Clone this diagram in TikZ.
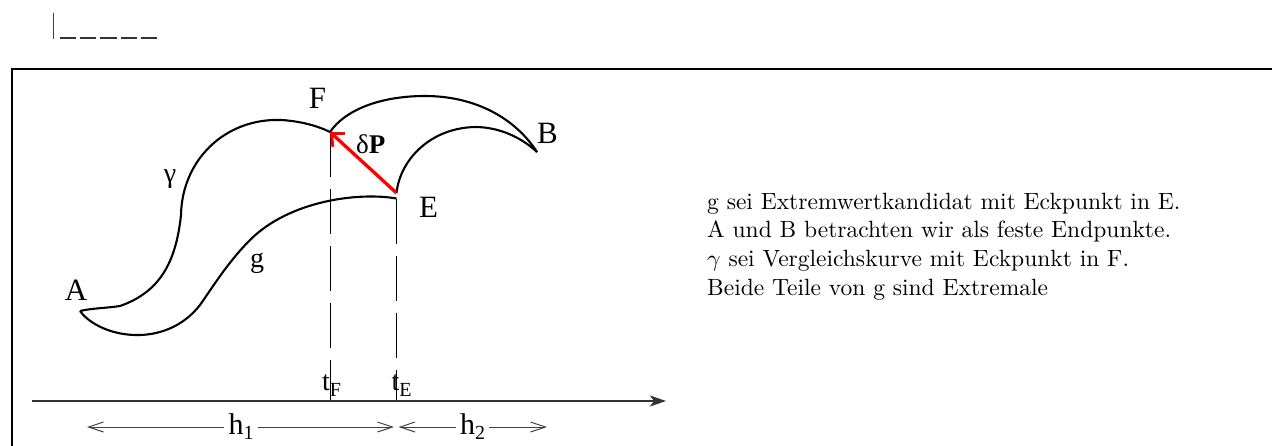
\documentclass[tikz,border=0pt]{standalone}
\usepackage{fontspec}
\newfontfamily\tms{Liberation Serif}
\usetikzlibrary{arrows.meta}
\begin{document}
\begin{tikzpicture}[x=1pt,y=-1pt,
  curve/.style={line width=2.1pt, line join=round},
  guide/.style={line width=0.9pt, dash pattern=on 45pt off 12pt},
  harrow/.style={line width=1pt, black!75, -{Straight Barb[length=15pt,width=10pt,line width=1pt]}},
  lbl/.style={inner sep=0pt, font=\tms\fontsize{31}{31}\selectfont},
  slbl/.style={inner sep=0pt, font=\tms\fontsize{28}{28}\selectfont},
  hlbl/.style={inner xsep=4pt, inner ysep=0pt, font=\tms\fontsize{30}{30}\selectfont},
  txt/.style={anchor=base west, inner sep=0pt},
  pvec/.style={line width=3.3pt, red, -{Straight Barb[length=10pt,width=18pt,line width=2.8pt]}}
]
\useasboundingbox (0,0) rectangle (1272,445);
% stray marks top left
\draw[line width=1.4pt, black!75] (53.5,13) -- (53.5,39);
\draw[line width=1.5pt, black!80, dash pattern=on 16.2pt off 4pt] (60,38) -- (160,38);
% frame
\draw[line width=2pt] (12,446) -- (12,69) -- (1273,69);
% points
\coordinate (A) at (80,311);
\coordinate (F) at (330,132);
\coordinate (B) at (537,152);
\coordinate (E) at (396.5,193);
\coordinate (gE) at (396.5,198.5);
\coordinate (tF) at (330,401);
\coordinate (tE) at (396.5,401);
\coordinate (ax0) at (32,401);
\coordinate (ax1) at (666,401);
\coordinate (h1L) at (87,427);
\coordinate (h1R) at (394,427);
\coordinate (h2L) at (398.5,427);
\coordinate (h2R) at (547,427);
% curves
\draw[curve] (A) .. controls (93,308) and (108,308) .. (120,306)
  .. controls (160,292) and (176,262) .. (181,215)
  .. controls (182,160) and (225,118) .. (281,120)
  .. controls (300,121) and (318,126) .. (F);
\draw[curve] (F) .. controls (345,110) and (380,96) .. (425,96)
  .. controls (475,96) and (515,118) .. (B);
\draw[curve] (B) .. controls (522,138) and (500,127) .. (475,127)
  .. controls (430,128) and (400,160) .. (E);
\draw[curve] (A) .. controls (100,338) and (165,350) .. (200,305)
  .. controls (212,288) and (228,262) .. (250,240)
  .. controls (290,200) and (360,192) .. (gE);
% guides
\draw[guide] (F) -- (tF);
\draw[guide] (gE) -- (tE);
% axis
\draw[line width=1.6pt, black!80, -{Stealth[length=16pt,width=11pt,inset=4pt]}] (ax0) -- (ax1);
% delta P
\draw[pvec] (E) -- (F);
% labels
\node[lbl, anchor=base] (lF) at (317.5,108) {F};
\node[lbl, anchor=base] (lB) at (547.5,143) {B};
\node[lbl, anchor=base] (lE) at (428.5,217) {E};
\node[lbl, anchor=base] (lA) at (76,300) {A};
\node[slbl, anchor=base] (lgam) at (170,182) {γ};
\node[slbl, anchor=base] (lg) at (257,267) {g};
\node[anchor=base west, inner sep=0pt, font=\tms\fontsize{27}{27}\selectfont] (dP) at (356,153) {δ\textbf{P}};
\node[slbl, anchor=base west] (ltF) at (322,390) {t\raisebox{-6pt}{\fontsize{20}{20}\selectfont F}};
\node[slbl, anchor=base west] (ltE) at (391.5,390) {t\raisebox{-6pt}{\fontsize{20}{20}\selectfont E}};
% h arrows
\node[hlbl] (h1) at (241,427) {h\raisebox{-5pt}{\fontsize{20}{20}\selectfont 1}};
\node[hlbl] (h2) at (472.5,427) {h\raisebox{-5pt}{\fontsize{20}{20}\selectfont 2}};
\draw[harrow] (h1.west) -- (h1L);
\draw[harrow] (h1.east) -- (h1R);
\draw[harrow] (h2.west) -- (h2L);
\draw[harrow] (h2.east) -- (h2R);
% text
\node[txt] (t1) at (707,209) {\scalebox{2.35}{\fontsize{10}{12}\selectfont g sei Extremwertkandidat mit Eckpunkt in E.}};
\node[txt] (t2) at (707,237.7) {\scalebox{2.35}{\fontsize{10}{12}\selectfont A und B betrachten wir als feste Endpunkte.}};
\node[txt] (t3) at (707,266.3) {\scalebox{2.35}{\fontsize{10}{12}\selectfont $\gamma$ sei Vergleichskurve mit Eckpunkt in F.}};
\node[txt] (t4) at (707,295) {\scalebox{2.35}{\fontsize{10}{12}\selectfont Beide Teile von g sind Extremale}};
\end{tikzpicture}
\end{document}
